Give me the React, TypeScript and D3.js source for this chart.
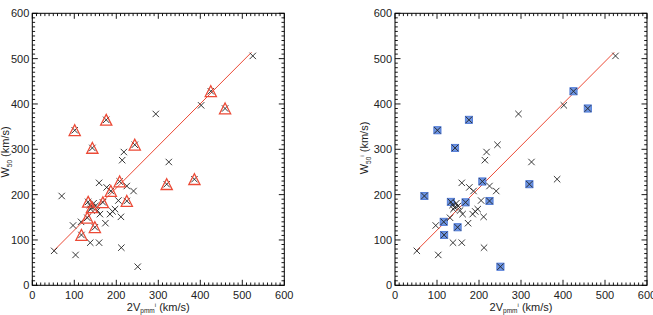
import React from 'react';
import * as d3 from 'd3';

// projected rotation velocity vs. W50 line width (km/s)
const vpmm = [
  525, 402, 294, 244, 218, 214, 325, 386, 52, 103, 212, 138, 159, 97, 174, 131,
  161, 185, 191, 197, 211, 159, 177, 187, 225, 241, 205, 101, 143, 176, 425, 459,
  320, 208, 225, 168, 133, 70, 116, 149, 117, 251, 142, 137, 150, 155, 139, 146,
];
const w50 = [
  506, 397, 378, 310, 294, 276, 272, 234, 76, 67, 83, 94, 94, 132, 137, 149,
  157, 157, 163, 168, 151, 226, 216, 208, 219, 208, 187, 342, 303, 365, 428, 390,
  223, 229, 186, 183, 184, 197, 140, 128, 111, 41, 172, 177, 175, 165, 168, 181,
];

// galaxies flagged in each panel
const triangleIdx = [3, 7, 15, 23, 27, 28, 29, 30, 31, 32, 33, 34, 35, 36, 39, 40, 42];
const squareIdx = [27, 28, 29, 30, 31, 32, 33, 34, 35, 36, 37, 38, 39, 40, 41];

// one-to-one fit line
const fitX = [52, 522];
const fitY = [77, 514];

const tickValues = [0, 100, 200, 300, 400, 500, 600];

const FONT = '"Liberation Sans", Arial, Helvetica, sans-serif';
const RED = '#ec4a36';
const INK = '#222';
const plotTop = 13.3;
const plotBottom = 285.3;
const plotWidth = 252;

type PanelProps = { left: number; marker: 'triangle' | 'square'; labelX: number; labelY: number; sup: boolean };

const Panel = ({ left, marker, labelX, labelY, sup }: PanelProps) => {
  const x = d3.scaleLinear().domain([0, 600]).range([left, left + plotWidth]);
  const y = d3.scaleLinear().domain([0, 600]).range([plotBottom, plotTop]);
  const right = left + plotWidth;
  const minor = d3.range(0, 601, 10);

  const line = d3
    .line<number>()
    .x((_, i) => x(fitX[i]))
    .y((_, i) => y(fitY[i]));

  const triPath = 'M0,-5.5L5.6,5.3L-5.6,5.3Z';
  const crossPath = 'M-3.2,-3.2L3.2,3.2M-3.2,3.2L3.2,-3.2';

  return (
    <g fontFamily={FONT}>
      {/* ticks on all four sides */}
      {minor.map((v) => {
        const len = v % 100 === 0 ? 5.5 : 2.8;
        return (
          <g key={v} stroke="#000" strokeWidth={0.9}>
            <line x1={x(v)} x2={x(v)} y1={plotBottom} y2={plotBottom - len} />
            <line x1={x(v)} x2={x(v)} y1={plotTop} y2={plotTop + len} />
            <line x1={left} x2={left + len} y1={y(v)} y2={y(v)} />
            <line x1={right} x2={right - len} y1={y(v)} y2={y(v)} />
          </g>
        );
      })}
      <rect x={left} y={plotTop} width={plotWidth} height={plotBottom - plotTop} fill="none" stroke="#000" strokeWidth={1} />

      {tickValues.map((v) => (
        <text key={'x' + v} x={x(v)} y={plotBottom + 14} fontSize={11} textAnchor="middle" fill={INK}>
          {v}
        </text>
      ))}
      {tickValues.map((v) => (
        <text key={'y' + v} x={left - 3} y={y(v) + 4} fontSize={11} textAnchor="end" fill={INK}>
          {v}
        </text>
      ))}

      <text x={left + plotWidth / 2} y={310.5} fontSize={11} textAnchor="middle" fill={INK}>
        2V<tspan fontSize={6.5} dy={2.5} fill={INK}>pmm</tspan>
        <tspan fontSize={6} dy={-6.5} fill={INK}>i</tspan>
        <tspan dy={4} fill={INK}> (km/s)</tspan>
      </text>
      <text transform={`translate(${labelX},${labelY}) rotate(-90)`} fontSize={11} textAnchor="middle" fill={INK}>
        W<tspan fontSize={6.5} dy={2.5} fill={INK}>50</tspan>
        {sup ? <tspan fontSize={6} dy={-6.5} fill={INK}>i</tspan> : null}
        <tspan dy={sup ? 4 : -2.5} fill={INK}> (km/s)</tspan>
      </text>

      <path d={line([0, 1]) || ''} fill="none" stroke={RED} strokeWidth={1} />

      {marker === 'square' &&
        squareIdx.map((i) => (
          <rect
            key={'s' + i}
            x={x(vpmm[i]) - 3.6}
            y={y(w50[i]) - 3.6}
            width={7.2}
            height={7.2}
            fill="#6d94e2"
            stroke="#4572d4"
            strokeWidth={0.8}
          />
        ))}

      {vpmm.map((v, i) => (
        <path
          key={'c' + i}
          d={crossPath}
          transform={`translate(${x(v)},${y(w50[i])})`}
          fill="none"
          stroke={INK}
          strokeWidth={0.9}
        />
      ))}

      {marker === 'triangle' &&
        triangleIdx.map((i) => (
          <path
            key={'t' + i}
            d={triPath}
            transform={`translate(${x(vpmm[i])},${y(w50[i])})`}
            fill="none"
            stroke={RED}
            strokeWidth={1.3}
          />
        ))}
    </g>
  );
};

const App = () => (
  <svg width={653} height={315} style={{ position: 'absolute', left: 0, top: 0, background: '#fff' }}>
    <Panel left={32.3} marker="triangle" labelX={9} labelY={152} sup={false} />
    <Panel left={395} marker="square" labelX={368} labelY={148} sup={true} />
  </svg>
);

export default App;
